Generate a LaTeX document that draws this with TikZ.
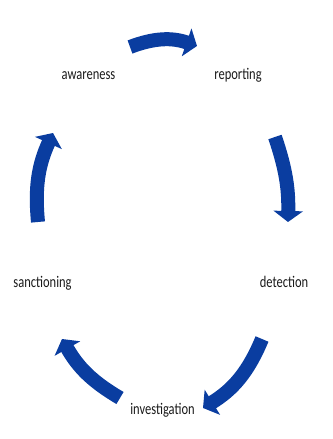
\documentclass[tikz,border=0pt]{standalone}
\usepackage{fontspec}
\setmainfont{Carlito}
\usetikzlibrary{arrows.meta}
\definecolor{cycleblue}{HTML}{0A3DA0}
\definecolor{labelgray}{HTML}{1A1A1A}

\begin{document}
\begin{tikzpicture}[x = 1pt, y = 1pt,
        stage/.style = {text = labelgray, font = \fontsize{12.5}{14}\selectfont, inner sep = 0pt, anchor = base, yscale = 1.3, transform shape},
        cyclearrow/.style = {draw = cycleblue, line width = 14pt, -{Triangle[length = 11pt, width = 29pt]}}]
        \useasboundingbox (0, 0) rectangle (332, 439);

        % Stages
        \node [stage] (awareness) at (88.5, 359) {awareness};
        \node [stage] (reporting) at (238, 359) {reporting};
        \node [stage] (detection) at (284, 151) {detection};
        \node [stage] (investigation) at (162.5, 24) {investigation};
        \node [stage] (sanctioning) at (42.5, 151) {sanctioning};

        % Arrow ends
        \coordinate (aw-out) at (130, 392);
        \coordinate (rep-in) at (197, 393);
        \coordinate (rep-out) at (275, 302);
        \coordinate (det-in) at (288, 217);
        \coordinate (det-out) at (262, 100);
        \coordinate (inv-in) at (203, 31);
        \coordinate (inv-out) at (120, 41);
        \coordinate (san-in) at (62, 100);
        \coordinate (san-out) at (38, 217);
        \coordinate (aw-in) at (53, 306);

        % Arrows
        \draw [cyclearrow] (aw-out) to [bend left = 20] (rep-in);
        \draw [cyclearrow] (rep-out) to [bend left = 10] (det-in);
        \draw [cyclearrow] (det-out) to [bend left = 18] (inv-in);
        \draw [cyclearrow] (inv-out) to [bend left = 15] (san-in);
        \draw [cyclearrow] (san-out) to [bend left = 15] (aw-in);

\end{tikzpicture}
\end{document}
